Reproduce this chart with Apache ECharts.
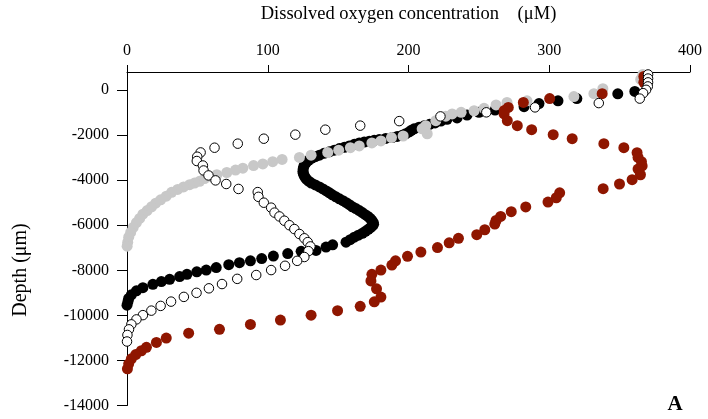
<!DOCTYPE html>
<html>
<head>
<meta charset="utf-8">
<script src="https://cdn.jsdelivr.net/npm/echarts@6/dist/echarts.min.js"></script>
<style>html,body{margin:0;padding:0;background:#fff;}#c{width:708px;height:419px;}</style>
</head>
<body>
<div id="c"></div>
<script>
// Tick labels
var xTicks = [0, 100, 200, 300, 400];
var yTicks = [0, -2000, -4000, -6000, -8000, -10000, -12000, -14000];

// Series: [dissolved oxygen (uM), depth (um)]
var graySeries = [
  [366.5,690],[365,470],[338.1,60],[331.7,-160],[317.5,-290],[284.2,-480],[270,-550],[262.2,-660],
  [253.7,-810],[246.6,-920],[237.4,-990],[231,-1060],[226.5,-1160],[219.4,-1360],[212.3,-1580],
  [209.7,-1720],[213.3,-1940],[196.2,-2040],[187.9,-2110],[180.4,-2260],[174,-2350],[165,-2480],
  [158.7,-2560],[150.4,-2670],[142.6,-2770],[130.8,-2890],[122.5,-2990],[110.2,-3080],[103.5,-3180],
  [96.5,-3280],[89.9,-3350],[82.3,-3470],[77.1,-3550],[70.9,-3660],[63.8,-3760],[58.7,-3830],
  [55.1,-3930],[51.6,-4050],[48,-4130],[44.5,-4200],[40.2,-4300],[36,-4410],[31.7,-4540],
  [27.9,-4710],[23.9,-4870],[20.4,-5020],[17.5,-5180],[14.3,-5350],[11.3,-5510],[9,-5700],
  [6.7,-5880],[4.4,-6100],[2.6,-6320],[1.2,-6530],[0.5,-6750],[0.1,-6930]
];
var blackSeries = [
  [360.8,-60],[348.7,-170],[319.6,-380],[306.2,-480],[292.7,-600],[282.1,-740],[261.5,-890],
  [250.1,-990],[241.6,-1110],[234.5,-1240],[227.4,-1300],[223,-1380],[218.9,-1460],[215,-1520],
  [211.1,-1590],[207.5,-1650],[204,-1720],[202,-1790],[200.5,-1860],[198,-1940],[195.5,-2010],
  [192,-2060],[188.4,-2110],[183.8,-2150],[179.2,-2200],[175.6,-2230],[172.1,-2270],[168.5,-2310],
  [165,-2350],[161.5,-2410],[157.9,-2480],[154.5,-2540],[150.9,-2600],[147.3,-2670],[143.8,-2740],
  [140,-2810],[136.7,-2890],[133.8,-2960],[131,-3030],[129,-3120],[127.4,-3210],[126.4,-3290],
  [125.7,-3380],[125.2,-3490],[125,-3600],[125.2,-3690],[125.7,-3780],[126.4,-3860],[127.4,-3950],
  [129,-4040],[131,-4130],[133.8,-4210],[136.7,-4300],[139.2,-4390],[141.6,-4480],[143.8,-4560],
  [145.9,-4650],[148.4,-4740],[150.9,-4830],[153.4,-4910],[155.8,-5000],[158,-5090],[160.1,-5180],
  [162.6,-5260],[165,-5350],[167.2,-5440],[169.3,-5530],[171.2,-5610],[172.8,-5700],[174,-5790],
  [175,-5880],[175.2,-5960],[174.3,-6030],[173,-6110],[171.4,-6180],[169.4,-6270],[167.2,-6360],
  [164.4,-6440],[161.5,-6530],[158.6,-6640],[155.6,-6750],[146.1,-6870],[141.4,-6970],[134.3,-7120],
  [123.7,-7160],[114.2,-7260],[104,-7370],[95.7,-7480],[87.7,-7580],[79.9,-7660],[72.3,-7750],
  [63.4,-7880],[56.3,-7990],[49.6,-8070],[42.6,-8180],[37.4,-8280],[30.3,-8400],[24.4,-8500],
  [18.4,-8620],[11.3,-8770],[6.7,-8910],[3.1,-9090],[1.2,-9250],[0.7,-9380],[0,-9550]
];
var redSeries = [
  [367.2,600],[367.2,340],[337.6,-160],[300.3,-380],[281.6,-550],[270.9,-770],[268,-910],
  [267.9,-1060],[270.2,-1360],[277.3,-1580],[287.5,-1760],[302.8,-1980],[316.3,-2160],[338.8,-2380],
  [353,-2560],[362.4,-2780],[363.1,-2990],[365.5,-3180],[366,-3370],[363.1,-3510],[364.8,-3760],
  [358.9,-3980],[349.9,-4170],[338.3,-4380],[307.4,-4560],[305,-4780],[299.1,-4970],[283.3,-5190],
  [273,-5400],[265.5,-5610],[262.2,-5790],[261.3,-5950],[254.2,-6200],[248.5,-6420],[235.5,-6580],
  [228.9,-6780],[220.6,-6990],[208.8,-7190],[199.3,-7380],[190.8,-7580],[188.2,-7770],[180.4,-7990],
  [174,-8180],[173.3,-8470],[177.3,-8820],[180.4,-9190],[175.7,-9400],[165.7,-9600],[149.6,-9790],
  [130.8,-9990],[109,-10210],[87.7,-10400],[65.7,-10620],[43.8,-10790],[27.9,-11010],[20.9,-11200],
  [13.8,-11420],[10.2,-11570],[6.2,-11740],[3.1,-11930],[1.2,-12150],[0.3,-12370]
];
var openSeries = [
  [370.2,690],[370.2,510],[370.2,340],[370,160],[368.8,10],[366.7,-140],[364.3,-380],[335.2,-580],
  [289.9,-770],[255.3,-990],[222.7,-1170],[193.4,-1380],[165.7,-1580],[140.9,-1760],[119.6,-1980],
  [97.2,-2160],[78.7,-2380],[62.2,-2560],[52.3,-2770],[49.9,-2960],[49.6,-3150],[53.9,-3350],
  [54.4,-3570],[57.9,-3790],[62.9,-4010],[70.5,-4170],[79.2,-4390],[92.9,-4530],[93.4,-4740],
  [97.2,-5000],[102.4,-5220],[104.8,-5440],[108.3,-5610],[111.8,-5800],[115.4,-6000],[118.9,-6170],
  [122.5,-6390],[126,-6580],[128.4,-6750],[130.3,-6940],[128.9,-7150],[126,-7410],[120.9,-7580],
  [112.3,-7800],[102.4,-7990],[91.8,-8210],[78.3,-8380],[67.5,-8610],[58.2,-8800],[49.4,-9000],
  [40.4,-9180],[31.3,-9390],[23.9,-9580],[17.3,-9790],[11.3,-9990],[6.7,-10180],[3.1,-10400],
  [1.4,-10620],[0.3,-10870],[0,-11160]
];

var serif = '"Liberation Serif", "DejaVu Serif", serif';
var chart = echarts.init(document.getElementById('c'), null, {renderer: 'canvas'});
chart.setOption({
  animation: false,
  backgroundColor: '#ffffff',
  grid: {left: 127, right: 18, top: 67, bottom: 13.5, containLabel: false},
  xAxis: {
    type: 'value', position: 'top', min: 0, max: 400, interval: 100,
    name: 'Dissolved oxygen concentration    (μM)', nameLocation: 'middle', nameGap: 48,
    nameTextStyle: {fontFamily: serif, fontSize: 18.5, color: '#000'},
    axisLine: {show: true, onZero: false, lineStyle: {color: '#000', width: 1}},
    axisTick: {show: true, length: 7, inside: false, lineStyle: {color: '#000'}, customValues: xTicks},
    axisLabel: {fontFamily: serif, fontSize: 16, color: '#000', margin: 13, customValues: xTicks,
      formatter: function (v) { return String(v); }},
    splitLine: {show: false}
  },
  yAxis: {
    type: 'value', min: -14000, max: 800, interval: 2000,
    axisLine: {show: true, onZero: false, lineStyle: {color: '#000', width: 1}},
    axisTick: {show: true, length: 10, inside: false, lineStyle: {color: '#000'}, customValues: yTicks},
    axisLabel: {fontFamily: serif, fontSize: 16, color: '#000', margin: 18, customValues: yTicks,
      padding: [0, 0, 4, 0],
      formatter: function (v) { return String(v); }},
    splitLine: {show: false}
  },
  graphic: [
    {type: 'text', x: 21, y: 270, rotation: Math.PI / 2,
     style: {text: 'Depth (μm)', font: '20px ' + serif, fill: '#000', textAlign: 'center', textVerticalAlign: 'middle'}},
    {type: 'text', x: 675, y: 405,
     style: {text: 'A', font: 'bold 21px ' + serif, fill: '#000', textAlign: 'center', textVerticalAlign: 'middle'}}
  ],
  series: [
    {type: 'scatter', name: 'black', data: blackSeries, symbol: 'circle', symbolSize: 11,
     itemStyle: {color: '#000000', opacity: 1}, z: 2},
    {type: 'scatter', name: 'gray', data: graySeries, symbol: 'circle', symbolSize: 11,
     itemStyle: {color: '#c8c8c8', opacity: 1}, z: 3},
    {type: 'scatter', name: 'red', data: redSeries, symbol: 'circle', symbolSize: 11,
     itemStyle: {color: '#8f1600', opacity: 1}, z: 4},
    {type: 'scatter', name: 'open', data: openSeries, symbol: 'circle', symbolSize: 9.5,
     itemStyle: {color: '#ffffff', borderColor: '#000000', borderWidth: 1, opacity: 1}, z: 5}
  ]
});
</script>
</body>
</html>
